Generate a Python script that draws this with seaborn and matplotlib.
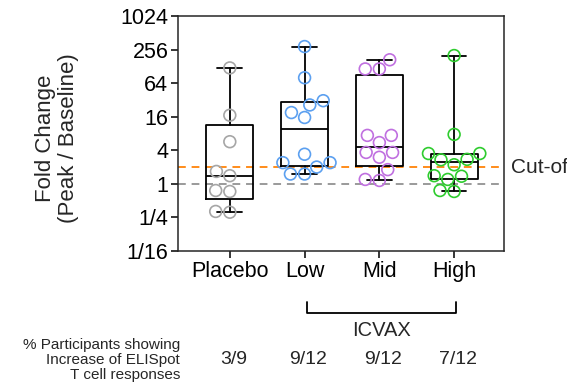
import numpy as np
import pandas as pd
import matplotlib
matplotlib.use("Agg")
import matplotlib.pyplot as plt
import matplotlib.transforms as mtransforms
import seaborn as sns

groups = ["Placebo", "Low", "Mid", "High"]
placebo = [120, 17, 5.7, 1.67, 1.4, 0.73, 0.76, 0.31, 0.32]
low = [290, 80, 31, 26, 19, 15.5, 3.4, 2.4, 2.4, 2.0, 1.5, 1.5]
mid = [168, 115, 115, 7.4, 7.4, 5.5, 3.66, 3.66, 3.0, 1.8, 1.15, 1.2]
high = [200, 7.7, 2.7, 2.75, 3.5, 3.5, 2.2, 1.2, 1.37, 1.4, 0.73, 0.76]
values = [placebo, low, mid, high]
responders = ["3/9", "9/12", "9/12", "7/12"]
ytick_vals = [1/16, 1/4, 1, 4, 16, 64, 256, 1024]
ytick_labels = ["1/16", "1/4", "1", "4", "16", "64", "256", "1024"]
cutoff = 2
baseline = 1
colors = ["#a6a6a6", "#5ca0f0", "#c070e0", "#2ecc2e"]

df = pd.DataFrame({
    "Group": np.repeat(groups, [len(v) for v in values]),
    "Fold": np.concatenate(values),
})

sns.set_style("ticks")
plt.rcParams["font.family"] = ["Liberation Sans", "DejaVu Sans"]

fig = plt.figure(figsize=(5.67, 3.85), dpi=100)
ax = fig.add_axes([178 / 567, 134 / 385, 326 / 567, 235 / 385])

sns.swarmplot(data=df, x="Group", y="Fold", hue="Group", hue_order=groups,
              order=groups, palette=colors, size=8.5, log_scale=2,
              legend=False, zorder=3, ax=ax)
# open circles like the Prism original
for coll in ax.collections:
    fc = coll.get_facecolors()
    coll.set_edgecolors(fc)
    coll.set_facecolors("none")
    coll.set_linewidth(1.2)

# box = quartiles (Prism style percentiles), whiskers = min to max
stats = []
for name, vals in zip(groups, values):
    v = np.array(vals)
    q1, med, q3 = np.percentile(v, [25, 50, 75], method="weibull")
    stats.append(dict(label=name, med=med, q1=q1, q3=q3,
                      whislo=v.min(), whishi=v.max(), fliers=[]))
line = dict(color="black", linewidth=1.3)
ax.bxp(stats, positions=range(len(groups)), widths=0.63, capwidths=0.33,
       showfliers=False, manage_ticks=False, boxprops=line,
       whiskerprops=line, capprops=line, medianprops=line)

ax.axhline(cutoff, color="#ff8c1a", ls=(0, (4, 3)), lw=1.4, zorder=1)
ax.axhline(baseline, color="#9a9a9a", ls=(0, (4, 3)), lw=1.4, zorder=1)

ax.set_ylim(1 / 16, 1024)
ax.set_yticks(ytick_vals)
ax.set_yticklabels(ytick_labels)
ax.minorticks_off()
ax.set_xlim(-0.693, 3.667)
ax.set_xlabel("")
ax.set_ylabel("Fold Change\n(Peak / Baseline)", fontsize=16, linespacing=1.1)
ax.yaxis.set_label_coords(-0.305, 0.48)
for s in ax.spines.values():
    s.set_visible(True)
    s.set_linewidth(1.1)
ax.tick_params(length=5, width=1.1, labelsize=15.5, pad=2, colors="black")

ax.text(1.02, cutoff, "Cut-off", transform=mtransforms.blended_transform_factory(ax.transAxes, ax.transData),
        ha="left", va="center", fontsize=15, clip_on=False)

tr = mtransforms.blended_transform_factory(ax.transData, fig.transFigure)
for i, r in enumerate(responders):
    ax.text(i + 0.05, 1 - 360 / 385, r, transform=tr, ha="center", va="center", fontsize=14)
ax.plot([1.03, 1.03, 3.02, 3.02], [1 - 302 / 385, 1 - 313 / 385, 1 - 313 / 385, 1 - 302 / 385],
        transform=tr, color="black", lw=1.3, clip_on=False)
ax.text(2.03, 1 - 331 / 385, "ICVAX", transform=tr, ha="center", va="center", fontsize=14.5)
fig.text(180 / 567, 1 - 360 / 385, "% Participants showing\nIncrease of ELISpot\nT cell responses",
         ha="right", va="center", fontsize=11, linespacing=1.1)

fig.savefig("out.png", dpi=100)
